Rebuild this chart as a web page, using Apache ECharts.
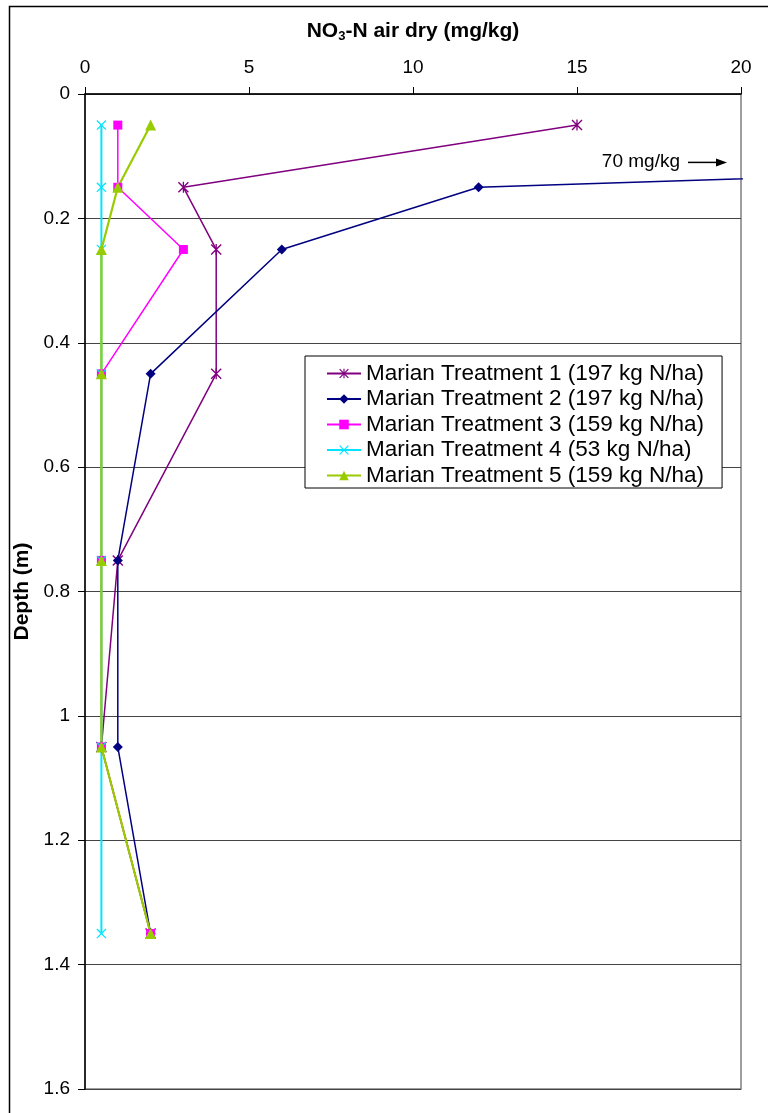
<!DOCTYPE html>
<html>
<head>
<meta charset="utf-8">
<script src="https://cdn.jsdelivr.net/npm/echarts@6/dist/echarts.min.js"></script>
<style>
  html, body { margin: 0; padding: 0; background: #fff; }
  #chart { width: 768px; height: 1113px; }
</style>
</head>
<body>
<div id="chart"></div>
<script>
// Sampling depths (m)
const depths = [0.05, 0.15, 0.25, 0.45, 0.75, 1.05, 1.35];

// NO3-N air dry (mg/kg) per treatment, one value per depth
const treatment1 = [15, 3, 4, 4, 1, 0.5, 2];
const treatment2 = [70, 12, 6, 2, 1, 1, 2];
const treatment3 = [1, 1, 3, 0.5, 0.5, 0.5, 2];
const treatment4 = [0.5, 0.5, 0.5, 0.5, 0.5, 0.5, 0.5];
const treatment5 = [2, 1, 0.5, 0.5, 0.5, 0.5, 2];

const seriesNames = [
  'Marian Treatment 1 (197 kg N/ha)',
  'Marian Treatment 2 (197 kg N/ha)',
  'Marian Treatment 3 (159 kg N/ha)',
  'Marian Treatment 4 (53 kg N/ha)',
  'Marian Treatment 5 (159 kg N/ha)'
];

const xTicks = [0, 5, 10, 15, 20];
const yTicks = [0, 0.2, 0.4, 0.6, 0.8, 1, 1.2, 1.4, 1.6];
const offScaleNote = '70 mg/kg';

const FONT = '"Liberation Sans", Arial, sans-serif';

// Marker shapes drawn as filled thin bars
const xPath = 'path://M0,0.9 L0.9,0 L10,9.1 L9.1,10 Z M10,0.9 L0.9,10 L0,9.1 L9.1,0 Z';
const starPath = xPath + ' M4.4,0 L5.6,0 L5.6,10 L4.4,10 Z';

function pairs(vals) {
  return vals.map((v, i) => [v, depths[i]]);
}

const chart = echarts.init(document.getElementById('chart'), null, { renderer: 'canvas' });

function makeSeries(name, vals, color, symbol, size, width) {
  return {
    name: name,
    type: 'line',
    data: pairs(vals),
    symbol: symbol,
    symbolSize: size,
    clip: true,
    z: 3,
    lineStyle: { color: color, width: width },
    itemStyle: { color: color, borderWidth: 0 },
    emphasis: { disabled: true },
    animation: false
  };
}

const option = {
  animation: false,
  backgroundColor: '#fff',
  grid: {
    left: 85, top: 94, right: 27, bottom: 24,
    show: true, borderColor: '#808080', borderWidth: 1.5, backgroundColor: 'transparent'
  },
  xAxis: {
    type: 'value',
    position: 'top',
    min: xTicks[0], max: xTicks[xTicks.length - 1], interval: 5,
    name: '{b|NO}{s|3}{b|-N air dry (mg/kg)}',
    nameLocation: 'middle',
    nameGap: 51,
    nameTextStyle: {
      rich: {
        b: { fontFamily: FONT, fontSize: 21, fontWeight: 'bold', color: '#000' },
        s: { fontFamily: FONT, fontSize: 13, fontWeight: 'bold', color: '#000', padding: [10, 0, 0, 0] }
      }
    },
    axisLine: { lineStyle: { color: '#000', width: 1.5 } },
    axisTick: { show: true, length: 7, lineStyle: { color: '#000' } },
    axisLabel: { fontFamily: FONT, fontSize: 19, color: '#000', margin: 17 },
    splitLine: { show: false }
  },
  yAxis: {
    type: 'value',
    inverse: true,
    min: yTicks[0], max: yTicks[yTicks.length - 1], interval: 0.2,
    name: 'Depth (m)',
    nameLocation: 'middle',
    nameGap: 47,
    nameRotate: 90,
    nameTextStyle: { fontFamily: FONT, fontSize: 21, fontWeight: 'bold', color: '#000' },
    axisLine: { lineStyle: { color: '#000', width: 1.5 } },
    axisTick: { show: true, length: 7, lineStyle: { color: '#000' } },
    axisLabel: {
      fontFamily: FONT, fontSize: 19, color: '#000', margin: 15,
      formatter: v => String(Math.round(v * 10) / 10)
    },
    splitLine: { show: true, lineStyle: { color: '#444', width: 1.2 } }
  },
  legend: {
    orient: 'vertical',
    left: 305, top: 356,
    padding: [6, 18, 1, 21],
    itemGap: 2.5,
    itemWidth: 34,
    itemHeight: 12,
    backgroundColor: '#fff',
    borderColor: '#000',
    borderWidth: 1,
    textStyle: { fontFamily: FONT, fontSize: 22.5, color: '#000', lineHeight: 22 },
    data: seriesNames
  },
  series: [
    makeSeries(seriesNames[0], treatment1, '#800080', starPath, 11, 1.5),
    makeSeries(seriesNames[1], treatment2, '#000080', 'diamond', 10, 1.5),
    makeSeries(seriesNames[2], treatment3, '#FF00FF', 'rect', 9, 1.5),
    makeSeries(seriesNames[3], treatment4, '#00E5FF', xPath, 10, 2),
    makeSeries(seriesNames[4], treatment5, '#99CC00', 'triangle', 11, 2.2)
  ]
};

chart.setOption(option);

// Off-scale note for the 70 mg/kg value, placed just left of the right plot edge
const edge = chart.convertToPixel({ gridIndex: 0 }, [xTicks[xTicks.length - 1], 0.11]);
chart.setOption({
  graphic: [
    {
      type: 'rect', silent: true, z: 0,
      shape: { x: 9.5, y: 6.5, width: 800, height: 1200 },
      style: { fill: 'none', stroke: '#000', lineWidth: 1.5 }
    },
    {
      type: 'text', silent: true, z: 10,
      x: edge[0] - 61, y: edge[1] - 1,
      style: {
        text: offScaleNote, fontFamily: FONT, fontSize: 19, fill: '#000',
        align: 'right', verticalAlign: 'middle'
      }
    },
    {
      type: 'line', silent: true, z: 10,
      shape: { x1: edge[0] - 53, y1: edge[1], x2: edge[0] - 22, y2: edge[1] },
      style: { stroke: '#000', lineWidth: 1.5 }
    },
    {
      type: 'polygon', silent: true, z: 10,
      shape: { points: [[edge[0] - 14, edge[1]], [edge[0] - 25, edge[1] - 4], [edge[0] - 25, edge[1] + 4]] },
      style: { fill: '#000' }
    }
  ]
});
</script>
</body>
</html>
